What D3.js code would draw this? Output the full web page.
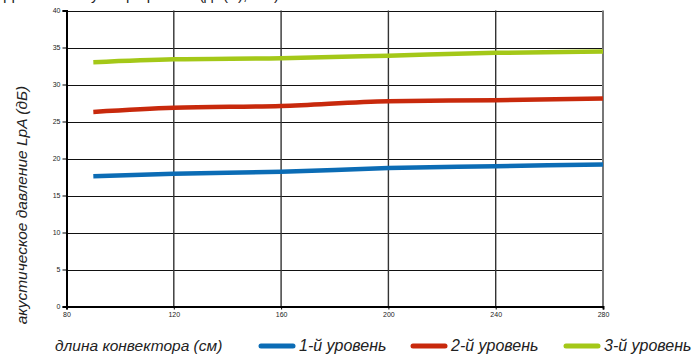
<!DOCTYPE html>
<html>
<head>
<meta charset="utf-8">
<script src="https://cdn.jsdelivr.net/npm/d3@7"></script>
<style>
  html, body { margin: 0; padding: 0; background: #fff; }
  svg { display: block; }
  .lbl { font-family: "Liberation Sans Narrow", "Liberation Sans", Roboto, sans-serif; font-style: italic; fill: #222; }
  .tick text { font-family: "Liberation Sans", Arial, sans-serif; font-size: 7px; fill: #222; }
</style>
</head>
<body>
<svg id="chart" width="692" height="356"></svg>
<script>
const lengths = [90, 120, 160, 200, 240, 280];
const level1 = [17.6, 17.95, 18.2, 18.7, 18.95, 19.2];
const level2 = [26.3, 26.85, 27.1, 27.75, 27.88, 28.1];
const level3 = [33.0, 33.4, 33.55, 33.9, 34.28, 34.45];
const seriesNames = ["1-й уровень", "2-й уровень", "3-й уровень"];
const seriesColors = ["#0b6cb5", "#c8290c", "#a4c818"];
const xTicks = [80, 120, 160, 200, 240, 280];
const yTicks = [0, 5, 10, 15, 20, 25, 30, 35, 40];
const yTitle = "акустическое давление LpA (дБ)";
const xTitle = "длина конвектора (см)";
const topTitle = "Давление звука при работе (дБ(A), 1 м)";

const svg = d3.select("#chart");
const x = d3.scaleLinear().domain([80, 280]).range([66.5, 603]);
const y = d3.scaleLinear().domain([0, 40]).range([306.5, 10.5]);

// clipped title at top (only its lower edge shows, as in the reference)
svg.append("text").attr("class", "lbl").attr("x", 4).attr("y", -0.5)
  .style("font-size", "15px").style("font-style", "normal").attr("fill", "#333").text(topTitle);

// horizontal gridlines
svg.append("g").selectAll("line").data(yTicks.filter(d => d > 0)).join("line")
  .attr("x1", x(80)).attr("x2", x(280))
  .attr("y1", d => Math.round(y(d)) + 0.5).attr("y2", d => Math.round(y(d)) + 0.5)
  .attr("stroke", "#111").attr("stroke-width", 1.2);

// vertical gridlines
svg.append("g").selectAll("line").data(xTicks.filter(d => d > 80)).join("line")
  .attr("x1", d => x(d)).attr("x2", d => x(d))
  .attr("y1", y(40)).attr("y2", y(0))
  .attr("stroke", d => d === 280 ? "#777" : "#333").attr("stroke-width", d => d === 280 ? 2 : 1.4);

// axes
const yAxis = d3.axisLeft(y).tickValues(yTicks).tickSize(4).tickPadding(2);
const gy = svg.append("g").attr("transform", `translate(${x(80)},0)`).call(yAxis);
gy.select(".domain").attr("stroke", "#000").attr("stroke-width", 2);
gy.selectAll(".tick line").attr("stroke", "#000");

const xAxis = d3.axisBottom(x).tickValues(xTicks).tickSize(3).tickPadding(3);
const gx = svg.append("g").attr("transform", `translate(0,${y(0)})`).call(xAxis);
gx.select(".domain").attr("stroke", "#000").attr("stroke-width", 2);
gx.selectAll(".tick line").attr("stroke", "#000");

// series lines
const line = d3.line().x((d, i) => x(lengths[i])).y(d => y(d)).curve(d3.curveMonotoneX);
[level1, level2, level3].forEach((vals, i) => {
  svg.append("path").datum(vals).attr("d", line)
    .attr("fill", "none").attr("stroke", seriesColors[i])
    .attr("stroke-width", 4.5).attr("stroke-linecap", "butt");
});

// y title
svg.append("text").attr("class", "lbl")
  .attr("transform", "translate(27,205) rotate(-90)")
  .attr("text-anchor", "middle").style("font-size", "15.5px").text(yTitle);

// bottom legend
svg.append("text").attr("class", "lbl").attr("x", 55).attr("y", 351)
  .style("font-size", "15.5px").text(xTitle);
const legX = [259, 411, 564];
seriesNames.forEach((name, i) => {
  svg.append("line").attr("x1", legX[i] + 2).attr("x2", legX[i] + 34)
    .attr("y1", 346).attr("y2", 346)
    .attr("stroke", seriesColors[i]).attr("stroke-width", 5).attr("stroke-linecap", "round");
  svg.append("text").attr("class", "lbl").attr("x", legX[i] + 40).attr("y", 351)
    .style("font-size", "16px").text(name);
});
</script>
</body>
</html>
